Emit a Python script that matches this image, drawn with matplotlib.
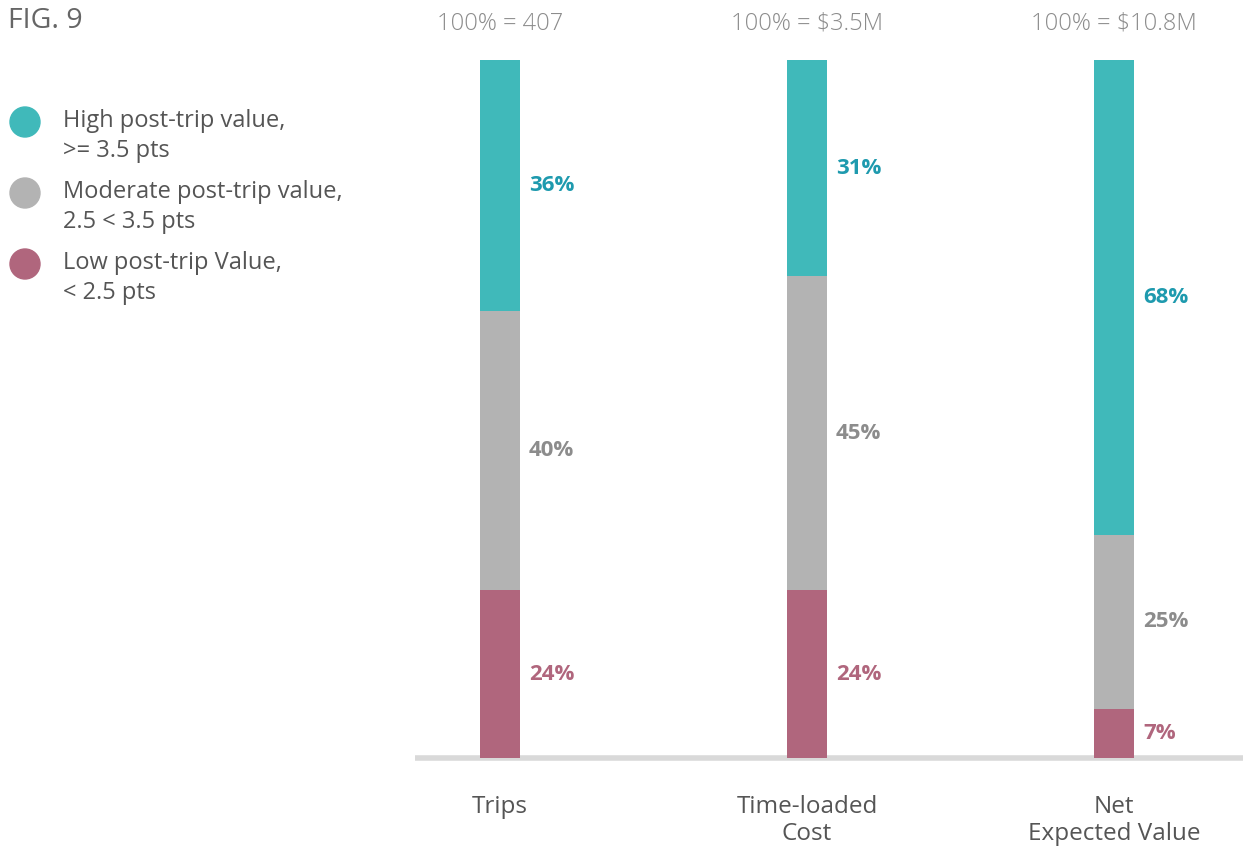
import matplotlib
matplotlib.use("Agg")
import matplotlib.pyplot as plt
import numpy as np

plt.rcParams["font.family"] = ["Open Sans", "DejaVu Sans"]

# ── Data ──
categories = ["Trips", "Time-loaded\nCost", "Net\nExpected Value"]
totals = ["100% = 407", "100% = $3.5M", "100% = $10.8M"]
low = [24, 24, 7]
moderate = [40, 45, 25]
high = [36, 31, 68]

series_names = ["Low post-trip Value,\n< 2.5 pts",
                "Moderate post-trip value,\n2.5 < 3.5 pts",
                "High post-trip value,\n>= 3.5 pts"]
bar_colors = ["#B0667D", "#B3B3B3", "#40B9BA"]
text_colors = ["#B0667D", "#8C8C8C", "#1E9AAE"]

W, H = 1243, 846
fig = plt.figure(figsize=(W / 100, H / 100), dpi=100)
ax = fig.add_axes([415 / W, 88 / H, 828 / W, 698 / H])

x = np.arange(len(categories))
bw = 40 / 307
bottom = np.zeros(len(categories))
for vals, bc, tc in zip([low, moderate, high], bar_colors, text_colors):
    vals = np.array(vals, dtype=float)
    ax.bar(x, vals, bw, bottom=bottom, color=bc, edgecolor="none", zorder=2)
    for xi, b, v in zip(x, bottom, vals):
        ax.text(xi + bw / 2 + 9 / 307, b + v / 2, f"{v:.0f}%", ha="left",
                va="center", fontsize=16, fontweight="bold", color=tc)
    bottom += vals

ax.set_xlim(-85 / 307, 2 + 129 / 307)
ax.set_ylim(0, 100)
ax.axis("off")
ax.axhline(0, color="#D9D9D9", lw=4, zorder=1, clip_on=False,
           solid_capstyle="butt")

for xi, cat, tot in zip(x, categories, totals):
    ax.text(xi, 105.2, tot, ha="center", va="center", fontsize=17,
            color="#8C8C8C", fontweight="light")
    ax.text(xi, -5.3, cat, ha="center", va="top", fontsize=17.5,
            color="#555555", linespacing=1.19)

fig.text(8 / W, 1 - 21 / H, "FIG. 9", ha="left", va="center", fontsize=20.5,
         color="#666666")

# Legend: circle markers with two-line labels
leg_y = [122, 193, 264]
for yy, name, c in zip(leg_y, series_names[::-1], bar_colors[::-1]):
    fig.patches.append(matplotlib.patches.Ellipse(
        (25 / W, 1 - yy / H), 30 / W, 30 / H, transform=fig.transFigure,
        color=c, figure=fig))
    fig.text(63 / W, 1 - (yy + 14) / H, name, ha="left", va="center",
             fontsize=17, color="#555555", linespacing=1.37)

fig.savefig("out.png", dpi=100, facecolor="white")
